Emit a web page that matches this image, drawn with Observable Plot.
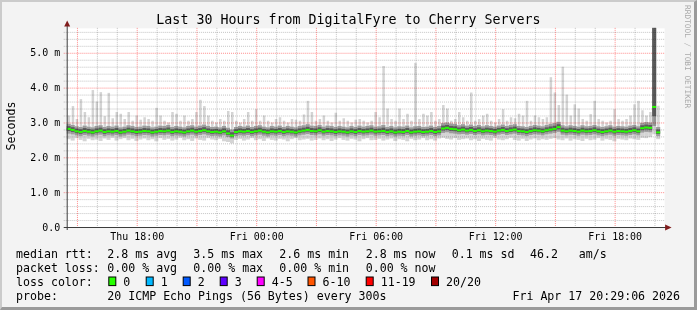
<!DOCTYPE html>
<html><head><meta charset="utf-8">
<script src="https://cdn.jsdelivr.net/npm/d3@7"></script>
<script src="https://cdn.jsdelivr.net/npm/@observablehq/plot@0.6"></script>
<style>
html,body{margin:0;padding:0;background:#fff;}
#wrap{position:relative;width:697px;height:310px;box-sizing:border-box;background:#f3f3f3;border-top:2px solid #cbcbcb;border-left:2px solid #cbcbcb;border-right:3px solid #9a9a9a;border-bottom:3px solid #9a9a9a;overflow:hidden;}
#chart{position:absolute;left:-2px;top:-2px;}
#overlay{position:absolute;left:-2px;top:-2px;font-family:"DejaVu Sans Mono",monospace;}
</style></head>
<body><div id="wrap"><div id="chart"></div><svg id="overlay" width="697" height="310"></svg></div>
<script>
// ---- data (values in 1/100 ms), one entry per 12-minute step ----
const med = [
283,280,276,274,277,275,273,276,278,274,
276,275,277,273,275,278,276,274,275,277,
276,273,275,277,276,278,274,276,275,273,
276,278,275,277,279,276,274,275,273,276,
270,264,274,276,275,277,274,276,278,275,
273,276,275,277,274,276,275,273,276,278,
280,277,276,279,275,277,276,274,276,275,
273,276,274,277,275,276,278,275,276,277,
274,276,273,275,274,277,273,275,276,274,
275,277,274,276,284,286,283,282,279,281,
278,280,277,279,276,278,277,275,278,280,
277,279,281,277,276,274,277,279,278,276,
279,281,283,288,278,276,278,277,275,278,
276,277,279,276,274,276,278,275,277,276,
275,277,279,276,285,287,286,346,273];
const lo = [
252,248,255,250,246,253,249,251,247,254,
250,256,248,252,255,249,253,247,251,254,
249,252,246,255,250,253,248,251,256,249,
252,247,254,250,248,255,251,249,253,246,
244,240,250,253,248,251,255,249,252,247,
254,250,248,253,251,246,252,255,249,251,
253,248,250,254,249,252,247,251,255,250,
248,253,251,246,252,255,249,250,253,248,
251,254,247,252,250,246,253,249,251,255,
249,252,248,254,256,253,251,255,250,252,
254,249,252,247,253,250,248,255,251,249,
252,256,250,248,253,247,251,254,249,252,
250,253,255,251,249,254,248,252,250,247,
253,249,251,255,248,252,250,246,253,251,
249,254,252,250,256,255,258,266,252];
const q1 = [
268,266,263,261,264,262,260,263,265,261,
263,262,264,260,262,265,263,261,262,264,
263,260,262,264,263,265,261,263,262,260,
263,265,262,264,266,263,261,262,260,263,
258,254,261,263,262,264,261,263,265,262,
260,263,262,264,261,263,262,260,263,265,
267,264,263,266,262,264,263,261,263,262,
260,263,261,264,262,263,265,262,263,264,
261,263,260,262,261,264,260,262,263,261,
262,264,261,263,270,272,269,268,266,267,
265,267,264,266,263,265,264,262,265,267,
264,266,268,264,263,261,264,266,265,263,
266,268,270,273,265,263,265,264,262,265,
263,264,266,263,261,263,265,262,264,263,
262,264,266,263,271,273,272,290,261];
const q3 = [
296,293,289,287,291,288,286,290,292,287,
290,288,291,286,288,292,290,287,288,291,
290,286,288,291,290,293,287,290,288,286,
290,292,288,291,294,290,287,288,286,290,
285,280,287,290,288,291,287,290,292,288,
286,290,288,291,287,290,288,286,290,292,
295,291,290,293,288,291,290,287,290,288,
286,290,287,291,288,290,292,288,289,293,
287,290,286,289,288,291,286,289,290,287,
288,291,287,290,298,300,297,296,292,295,
291,294,290,293,289,292,290,288,291,294,
290,293,295,290,289,287,290,293,291,289,
293,296,298,302,292,289,292,290,288,292,
289,290,293,289,287,289,292,288,290,289,
288,291,293,289,299,301,300,820,287];
const hi = [
320,347,310,367,330,315,393,360,387,318,
385,312,330,325,310,330,305,320,308,315,
310,305,342,320,305,300,330,325,305,320,
305,310,330,365,347,320,305,300,310,305,
333,330,305,300,310,330,305,338,305,320,
305,300,310,315,305,300,310,308,305,323,
362,330,305,310,320,305,300,328,305,312,
305,300,308,310,305,300,305,330,315,462,
340,310,305,340,310,325,305,471,310,325,
320,330,305,310,350,340,305,310,330,315,
305,386,305,310,320,325,305,300,310,338,
305,315,312,325,320,362,305,320,315,310,
315,430,386,350,460,380,320,352,340,310,
305,324,362,310,305,300,305,338,310,305,
310,320,352,362,335,320,330,900,348];

const yTickValues = [0, 1, 2, 3, 4, 5];
const yTickLabels = ["0.0", "1.0 m", "2.0 m", "3.0 m", "4.0 m", "5.0 m"];
const xTickTimes = ["2026-04-16T18:00:00Z", "2026-04-17T00:00:00Z", "2026-04-17T06:00:00Z", "2026-04-17T12:00:00Z", "2026-04-17T18:00:00Z"];
const xTickLabels = ["Thu 18:00", "Fri 00:00", "Fri 06:00", "Fri 12:00", "Fri 18:00"];
const xMajorTimes = ["2026-04-16T15:00:00Z","2026-04-16T18:00:00Z","2026-04-16T21:00:00Z","2026-04-17T00:00:00Z","2026-04-17T03:00:00Z","2026-04-17T06:00:00Z","2026-04-17T09:00:00Z","2026-04-17T12:00:00Z","2026-04-17T15:00:00Z","2026-04-17T18:00:00Z"];
const xMinorTimes = ["2026-04-16T16:00:00Z","2026-04-16T17:00:00Z","2026-04-16T19:00:00Z","2026-04-16T20:00:00Z","2026-04-16T22:00:00Z","2026-04-16T23:00:00Z","2026-04-17T01:00:00Z","2026-04-17T02:00:00Z","2026-04-17T04:00:00Z","2026-04-17T05:00:00Z","2026-04-17T07:00:00Z","2026-04-17T08:00:00Z","2026-04-17T10:00:00Z","2026-04-17T11:00:00Z","2026-04-17T13:00:00Z","2026-04-17T14:00:00Z","2026-04-17T16:00:00Z","2026-04-17T17:00:00Z","2026-04-17T19:00:00Z","2026-04-17T20:00:00Z"];
const yMajorGrid = [1, 2, 3, 4, 5];
const yMinorGrid = [0.2,0.4,0.6,0.8,1.2,1.4,1.6,1.8,2.2,2.4,2.6,2.8,3.2,3.4,3.6,3.8,4.2,4.4,4.6,4.8,5.2,5.4,5.6];

const title = "Last 30 Hours from DigitalFyre to Cherry Servers";
const yLabel = "Seconds";
const rttRow = ["median rtt:", "2.8 ms avg", "3.5 ms max", "2.6 ms min", "2.8 ms now", "0.1 ms sd", "46.2   am/s"];
const lossRow = ["packet loss:", "0.00 % avg", "0.00 % max", "0.00 % min", "0.00 % now"];
const lossLabels = ["0", "1", "2", "3", "4-5", "6-10", "11-19", "20/20"];
const lossColors = ["#26ff00", "#00b8ff", "#0059ff", "#5e00ff", "#ff00ff", "#ff5500", "#ff0000", "#a10000"];
const probeRow = ["probe:", "20 ICMP Echo Pings (56 Bytes) every 300s", "Fri Apr 17 20:29:06 2026"];

// ---- build ----
const tEnd = Date.UTC(2026, 3, 17, 20, 29, 6);
const tStart = tEnd - 30 * 3600e3;
const step = 12 * 60e3;
const data = med.map((m, i) => ({
  x1: new Date(tStart + i * step), x2: new Date(tStart + (i + 1) * step),
  med: m / 100, lo: lo[i] / 100, q1: q1[i] / 100, q3: q3[i] / 100, hi: hi[i] / 100
}));
const font = "DejaVu Sans Mono";
const blend = "multiply";

const plot = Plot.plot({
  width: 697, height: 250,
  marginLeft: 67, marginRight: 30, marginTop: 28, marginBottom: 22,
  style: {background: "transparent", fontFamily: font, overflow: "visible"},
  x: {type: "utc", domain: [new Date(tStart), new Date(tEnd)], axis: null},
  y: {domain: [0, 5.7143], axis: null, clamp: true},
  marks: [
    Plot.frame({fill: "#ffffff", stroke: null}),
    Plot.rect(data, {x1: "x1", x2: "x2", y1: "lo", y2: "q3", fill: "#d4d4d4"}),
    Plot.rect(data, {x1: "x1", x2: "x2", y1: "q3", y2: "hi", fill: "#d4d4d4", insetLeft: 1, insetRight: 0.5}),
    Plot.rect(data, {x1: "x1", x2: "x2", y1: "q1", y2: "q3", fill: "#9c9c9c"}),
    Plot.rect(data, {x1: "x1", x2: "x2", y1: d => (d.q1 + d.med) / 2, y2: d => (d.med + d.q3) / 2, fill: "#5c5c5c"}),
    Plot.ruleY(yMinorGrid, {stroke: "#c4c4c4", strokeDasharray: "1,1", insetLeft: -3, mixBlendMode: blend}),
    Plot.ruleX(xMinorTimes.map(s => new Date(s)), {stroke: "#c4c4c4", strokeDasharray: "1,1", insetBottom: -2, mixBlendMode: blend}),
    Plot.ruleY(yMajorGrid, {stroke: "#ff8c8c", strokeDasharray: "1,1", insetLeft: -3, mixBlendMode: blend}),
    Plot.ruleX(xMajorTimes.map(s => new Date(s)), {stroke: "#ff8c8c", strokeDasharray: "1,1", insetBottom: -2, mixBlendMode: blend}),
    Plot.ruleY(data, {x1: "x1", x2: "x2", y: "med", stroke: "#26ff00", strokeWidth: 2}),
    Plot.text(xTickTimes.map(s => new Date(s)), {x: d => d, text: (d, i) => xTickLabels[i], frameAnchor: "bottom", lineAnchor: "top", dy: 5, fontSize: 10, fill: "#000"}),
    Plot.text(yTickValues, {y: d => d, text: (d, i) => yTickLabels[i], frameAnchor: "left", textAnchor: "end", dx: -7, fontSize: 10, fill: "#000"})
  ]
});
document.getElementById("chart").appendChild(plot);

// axes with arrows, from the scales
const xs = plot.scale("x"), ys = plot.scale("y");
const X0 = xs.range[0], X1 = xs.range[1], Y0 = ys.range[0], Y1 = ys.range[1];
const g = d3.select(plot).append("g");
g.append("line").attr("x1", X0 - 3).attr("x2", X1 + 3).attr("y1", Y0 + 0.5).attr("y2", Y0 + 0.5).attr("stroke", "#3a3a3a");
g.append("line").attr("x1", X0 + 0.5).attr("x2", X0 + 0.5).attr("y1", Y0 + 3).attr("y2", Y1 - 3).attr("stroke", "#3a3a3a");
g.append("path").attr("d", `M${X1 + 1},${Y0 - 2.5}L${X1 + 7.5},${Y0 + 0.5}L${X1 + 1},${Y0 + 3.5}Z`).attr("fill", "#801c1c");
g.append("path").attr("d", `M${X0 - 2.5},${Y1 - 1.5}L${X0 + 0.5},${Y1 - 7.5}L${X0 + 3.5},${Y1 - 1.5}Z`).attr("fill", "#801c1c");

// overlay texts
const ov = d3.select("#overlay");
function txt(x, y, s, o = {}) {
  const t = ov.append("text").attr("x", x).attr("y", y)
    .attr("font-size", o.size || 11.6).attr("text-anchor", o.anchor || "start")
    .attr("fill", o.fill || "#000").style("white-space", "pre").text(s);
  if (o.rot) t.attr("transform", `rotate(${o.rot} ${x} ${y})`);
  return t;
}
txt(348.5, 24, title, {size: 13.3, anchor: "middle"});
txt(15, 126, yLabel, {rot: -90, anchor: "middle"});
txt(685, 5, "RRDTOOL / TOBI OETIKER", {size: 7.8, rot: 90, fill: "#a9a9a9"});

const rowY = [257.8, 271.7, 285.6, 299.5];
const colX = [16, 107.3, 193.3, 279.3, 365.7, 451.7, 530];
rttRow.forEach((s, i) => txt(colX[i], rowY[0], s));
lossRow.forEach((s, i) => txt(colX[i], rowY[1], s));
txt(16, rowY[2], "loss color:");
const boxX = [108.3, 145.7, 182.7, 219.7, 256.7, 307.5, 365.7, 431];
lossLabels.forEach((s, i) => {
  ov.append("rect").attr("x", boxX[i] + 0.5).attr("y", rowY[2] - 8.6).attr("width", 7).attr("height", 8.6)
    .attr("fill", lossColors[i]).attr("stroke", "#000").attr("stroke-width", 1);
  txt(boxX[i] + 15, rowY[2], s);
});
txt(16, rowY[3], probeRow[0]);
txt(107.3, rowY[3], probeRow[1]);
txt(680, rowY[3], probeRow[2], {anchor: "end"});
</script>
</body></html>
